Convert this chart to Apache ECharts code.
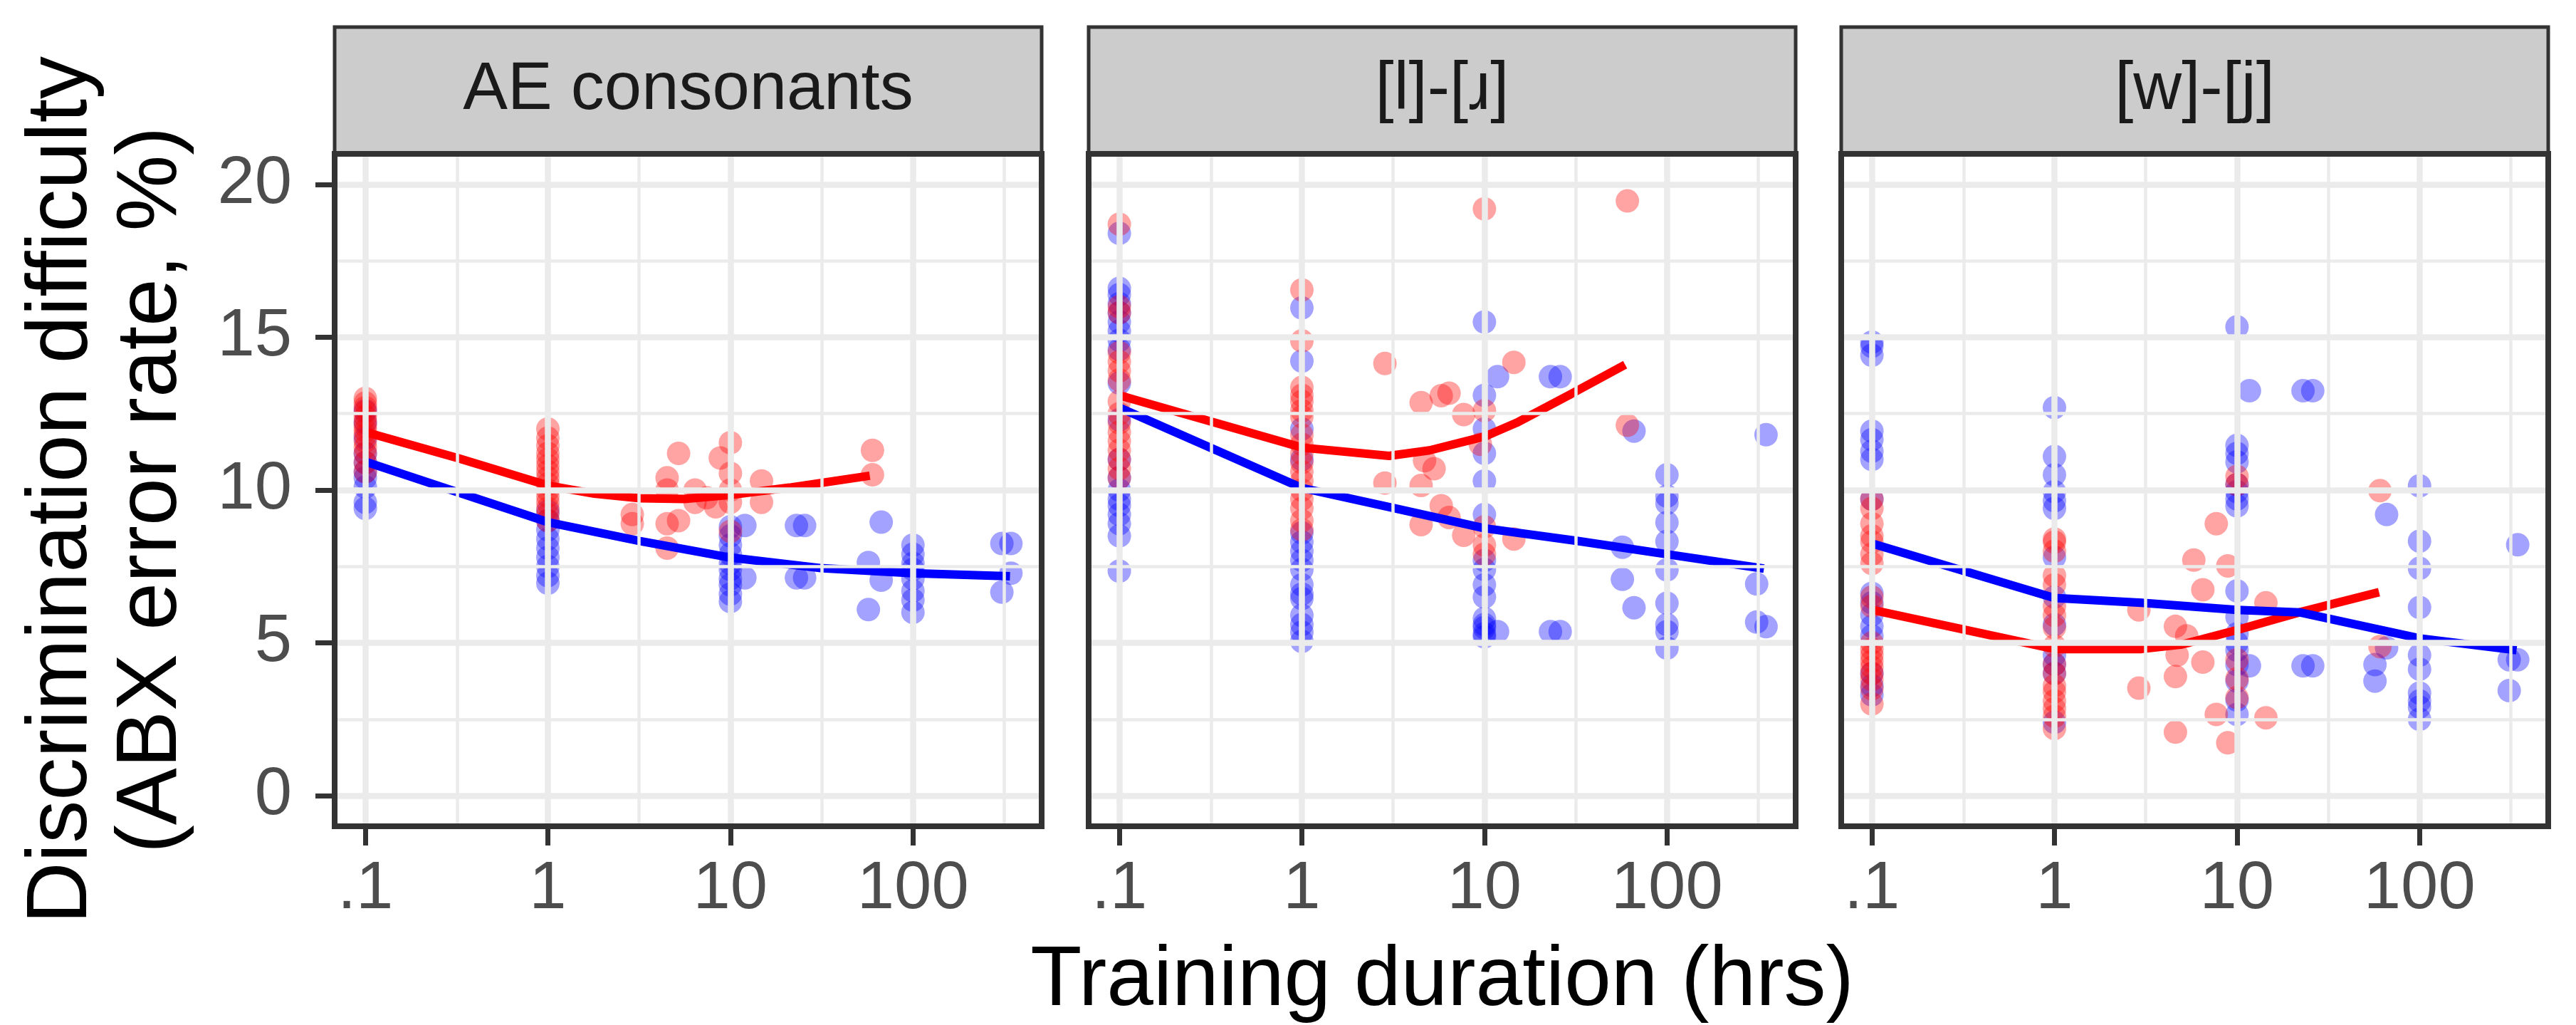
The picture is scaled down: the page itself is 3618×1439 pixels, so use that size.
<!DOCTYPE html>
<html>
<head>
<meta charset="utf-8">
<script src="https://cdn.jsdelivr.net/npm/echarts@6/dist/echarts.min.js"></script>
<style>
html, body { margin: 0; padding: 0; background: #fff; }
#chart { width: 3618px; height: 1439px; }
</style>
</head>
<body>
<div id="chart"></div>
<script>
// facet labels
const panelNames = ['AE consonants', '[l]-[ɹ]', '[w]-[j]']

// axis ticks
const xTicks = [0.1, 1, 10, 100]
const xTickLabels = ['.1', '1', '10', '100']
const xMinorGrid = [0.3162, 3.162, 31.62, 316.2]
const yTicks = [0, 5, 10, 15, 20]
const yMinorGrid = [2.5, 7.5, 12.5, 17.5]

// points: [training hours, [error rates ...]]
const aeRed = [
  [0.1, [13.0, 12.85, 12.7, 12.55, 12.4, 12.25, 12.1, 11.95, 11.8, 11.6, 11.4, 11.2, 10.9, 10.6]],
  [1, [12.0, 11.7, 11.45, 11.2, 11.0, 10.8, 10.6, 10.4, 10.2, 10.0, 9.8, 9.6, 9.4, 9.2, 9.0]],
  [2.9, [9.2, 8.9]],
  [4.5, [10.4, 10.0, 8.9, 8.1]],
  [5.2, [11.2, 9.0]],
  [6.4, [10.0, 9.6]],
  [7.4, [9.75]],
  [8.3, [9.45]],
  [8.8, [11.05]],
  [10, [11.55, 10.55, 10.0, 9.6, 8.65]],
  [14.8, [10.3, 9.6]],
  [60, [11.3, 10.5]]
]
const aeBlue = [
  [0.1, [12.6, 12.2, 11.7, 11.2, 10.9, 10.6, 10.4, 10.1, 9.6, 9.4]],
  [1, [9.3, 9.0, 8.7, 8.4, 8.1, 7.8, 7.5, 7.2, 6.95]],
  [10, [8.8, 8.5, 8.2, 7.9, 7.6, 7.4, 7.1, 6.9, 6.6, 6.35]],
  [12, [8.84, 7.13]],
  [23, [8.84, 7.13]],
  [25.5, [8.84, 7.13]],
  [57, [7.63, 6.09]],
  [67, [8.95, 7.05]],
  [100, [8.2, 7.9, 7.6, 7.4, 7.1, 6.7, 6.4, 6.0]],
  [307, [8.25, 6.66]],
  [344, [8.25, 7.28]]
]
const lrRed = [
  [0.1, [18.7, 16.0, 15.8, 14.5, 14.2, 13.9, 13.6, 12.9, 12.5, 12.2, 11.9, 11.6, 11.3, 11.0, 10.7, 10.4]],
  [1, [16.55, 14.88, 13.36, 13.1, 12.9, 12.6, 12.4, 11.8, 11.5, 11.2, 10.9, 10.6, 10.3, 10.0, 9.7, 9.4, 9.0, 8.7]],
  [2.85, [14.14, 10.23]],
  [4.5, [12.86, 10.15, 8.87]],
  [4.7, [10.96]],
  [5.3, [10.7]],
  [5.8, [13.09, 9.49]],
  [6.4, [13.17, 9.1]],
  [7.7, [12.47, 8.52]],
  [9.5, [11.5]],
  [10, [19.2, 12.6, 8.8, 8.2, 7.9]],
  [14.5, [14.18, 8.4]],
  [60.7, [19.46, 12.12]]
]
const lrBlue = [
  [0.1, [18.4, 16.6, 16.4, 16.1, 15.8, 15.5, 15.2, 14.9, 14.6, 13.5, 12.3, 11.0, 10.4, 10.0, 9.7, 9.5, 9.2, 8.9, 8.5, 7.35]],
  [1, [15.96, 14.22, 12.0, 11.0, 8.6, 8.3, 8.0, 7.7, 7.4, 6.9, 6.6, 6.45, 5.9, 5.6, 5.35, 5.05]],
  [10, [15.5, 13.1, 12.0, 11.2, 10.3, 9.2, 7.7, 7.4, 6.9, 6.5, 5.8, 5.6, 5.5, 5.3, 5.2]],
  [11.8, [13.71, 5.37]],
  [23, [13.71, 5.37]],
  [26, [13.71, 5.37]],
  [57, [8.13, 7.08]],
  [66, [11.93, 6.15]],
  [100, [10.5, 9.8, 9.57, 8.94, 8.32, 7.39, 6.3, 5.6, 5.37, 4.83]],
  [310, [6.93, 5.68]],
  [349, [11.81, 5.53]]
]
const wjRed = [
  [0.1, [9.7, 9.4, 8.9, 8.5, 8.3, 7.9, 7.6, 6.5, 6.2, 5.0, 4.8, 4.6, 4.4, 4.2, 4.0, 3.8, 3.5, 3.0]],
  [1, [8.4, 8.3, 8.0, 7.2, 6.9, 6.2, 5.9, 5.5, 4.9, 4.3, 4.0, 3.6, 3.4, 3.1, 2.85, 2.6, 2.2]],
  [2.9, [6.08, 3.52]],
  [4.6, [5.54, 3.9, 2.08]],
  [4.7, [4.6]],
  [5.3, [5.23]],
  [5.8, [7.71]],
  [6.5, [6.74, 4.37]],
  [7.7, [8.9, 2.66]],
  [8.9, [7.52, 1.73]],
  [10, [10.45, 10.18, 4.45, 3.83, 3.21]],
  [14.4, [6.31, 2.55]],
  [60.7, [9.98, 4.88]]
]
const wjBlue = [
  [0.1, [14.84, 14.7, 14.41, 11.93, 11.65, 11.27, 11.0, 9.7, 6.62, 6.31, 5.92, 5.54, 5.23, 4.0, 3.6, 3.3]],
  [1, [12.7, 11.1, 10.5, 9.95, 9.65, 9.4, 7.8, 6.5, 5.6, 4.6, 4.3, 4.0, 2.4]],
  [10, [15.34, 11.46, 11.2, 10.92, 10.18, 9.95, 9.71, 9.48, 6.7, 5.85, 5.3, 5.0, 4.76, 4.29, 3.75, 3.13, 2.66]],
  [11.7, [13.25, 4.25]],
  [23, [13.25, 4.25]],
  [26, [13.25, 4.25]],
  [57, [4.29, 3.75]],
  [66, [9.2, 4.84]],
  [100, [10.14, 8.33, 7.44, 6.16, 4.6, 4.14, 3.36, 3.1, 2.9, 2.5]],
  [310, [4.45, 3.44]],
  [345, [8.21, 4.45]]
]

// smoothed trend lines
const aeRedFit = [[0.1, 11.9], [0.32, 11.05], [1, 10.15], [1.8, 9.88], [3.2, 9.73], [5.6, 9.71], [10, 9.84], [21, 10.08], [58, 10.47]]
const aeBlueFit = [[0.1, 10.93], [1, 8.95], [3.2, 8.33], [10, 7.79], [32, 7.44], [100, 7.28], [340, 7.18]]
const lrRedFit = [[0.1, 13.1], [1, 11.39], [3, 11.12], [5, 11.3], [10, 11.75], [15, 12.2], [30, 13.15], [59, 14.1]]
const lrBlueFit = [[0.1, 12.7], [1, 10.07], [3.2, 9.41], [10, 8.75], [32, 8.34], [100, 7.9], [340, 7.43]]
const wjRedFit = [[0.1, 6.08], [1, 4.8], [3, 4.8], [5, 4.95], [10, 5.42], [22, 6.0], [60, 6.66]]
const wjBlueFit = [[0.1, 8.25], [1, 6.47], [3, 6.31], [10, 6.08], [22, 6.0], [100, 5.15], [340, 4.76]]

const panels = [
  { red: aeRed, blue: aeBlue, redFit: aeRedFit, blueFit: aeBlueFit },
  { red: lrRed, blue: lrBlue, redFit: lrRedFit, blueFit: lrBlueFit },
  { red: wjRed, blue: wjBlue, redFit: wjRedFit, blueFit: wjBlueFit }
]

const font = "'Liberation Sans', Arial, 'DejaVu Sans', sans-serif"
const panelLeft = [470, 1529, 2586]
const panelTop = 216
const panelW = 993
const panelH = 944
const stripTop = 38

function flatten(cols) {
  let out = []
  cols.forEach(([x, ys]) => ys.forEach(y => out.push([x, y])))
  return out
}

let myChart = echarts.init(document.getElementById('chart'), null, { renderer: 'canvas' })

let grids = []
let xAxes = []
let yAxes = []
let series = []
let graphics = []

panels.forEach((p, i) => {
  grids.push({
    left: panelLeft[i],
    top: panelTop,
    width: panelW,
    height: panelH,
    show: true,
    borderColor: '#333333',
    borderWidth: 8,
    backgroundColor: 'transparent',
    z: 10,
    outerBoundsMode: 'none'
  })
  xAxes.push({
    gridIndex: i,
    type: 'log',
    logBase: 10,
    min: 0.0679,
    max: 507,
    axisLine: { show: false, onZero: false },
    splitLine: { show: false },
    minorTick: { show: false },
    minorSplitLine: { show: false },
    axisTick: {
      show: true,
      length: 27,
      customValues: xTicks,
      lineStyle: { color: '#333333', width: 7 }
    },
    axisLabel: {
      customValues: xTicks,
      formatter: v => {
        let k = xTicks.findIndex(t => Math.abs(t - v) < 1e-6 * t)
        return k >= 0 ? xTickLabels[k] : ''
      },
      margin: 42,
      fontSize: 94,
      color: '#4D4D4D',
      fontFamily: font
    },
    name: i === 1 ? 'Training duration (hrs)' : '',
    nameLocation: 'middle',
    nameGap: 159,
    nameTextStyle: { fontSize: 118, color: '#000000', fontFamily: font, lineHeight: 118 }
  })
  yAxes.push({
    gridIndex: i,
    type: 'value',
    min: -1,
    max: 21,
    axisLine: { show: false, onZero: false },
    splitLine: { show: false },
    axisTick: {
      show: i === 0,
      length: 27,
      customValues: yTicks,
      lineStyle: { color: '#333333', width: 7 }
    },
    axisLabel: {
      show: i === 0,
      customValues: yTicks,
      margin: 60,
      fontSize: 94,
      color: '#4D4D4D',
      fontFamily: font
    },
    name: i === 0 ? 'Discrimination difficulty\n(ABX error rate, %)' : '',
    nameLocation: 'middle',
    nameRotate: 90,
    nameGap: 193,
    nameTextStyle: { fontSize: 120, color: '#000000', fontFamily: font, lineHeight: 126, align: 'center' }
  })

  // panel grid lines
  let gridLines = []
  xMinorGrid.forEach(v => gridLines.push({ xAxis: v, lineStyle: { color: '#EBEBEB', width: 4.5, type: 'solid' } }))
  yMinorGrid.forEach(v => gridLines.push({ yAxis: v, lineStyle: { color: '#EBEBEB', width: 4.5, type: 'solid' } }))
  xTicks.forEach(v => gridLines.push({ xAxis: v, lineStyle: { color: '#EBEBEB', width: 8.5, type: 'solid' } }))
  yTicks.forEach(v => gridLines.push({ yAxis: v, lineStyle: { color: '#EBEBEB', width: 8.5, type: 'solid' } }))
  series.push({
    type: 'scatter',
    xAxisIndex: i,
    yAxisIndex: i,
    data: [],
    z: 1,
    silent: true,
    markLine: {
      silent: true,
      symbol: ['none', 'none'],
      label: { show: false },
      emphasis: { disabled: true },
      animation: false,
      data: gridLines
    }
  })

  series.push({
    type: 'scatter',
    xAxisIndex: i,
    yAxisIndex: i,
    data: flatten(p.blue),
    symbolSize: 33,
    itemStyle: { color: 'rgba(0, 0, 255, 0.45)' },
    silent: true,
    z: 3
  })
  series.push({
    type: 'scatter',
    xAxisIndex: i,
    yAxisIndex: i,
    data: flatten(p.red),
    symbolSize: 33,
    itemStyle: { color: 'rgba(255, 0, 0, 0.45)' },
    silent: true,
    z: 3
  })
  series.push({
    type: 'line',
    xAxisIndex: i,
    yAxisIndex: i,
    data: p.redFit,
    showSymbol: false,
    lineStyle: { color: '#FF0000', width: 12 },
    silent: true,
    z: 4
  })
  series.push({
    type: 'line',
    xAxisIndex: i,
    yAxisIndex: i,
    data: p.blueFit,
    showSymbol: false,
    lineStyle: { color: '#0000FF', width: 12 },
    silent: true,
    z: 4
  })

  // facet strip
  graphics.push({
    type: 'rect',
    shape: { x: panelLeft[i], y: stripTop, width: panelW, height: panelTop - stripTop },
    style: { fill: '#CCCCCC', stroke: '#333333', lineWidth: 5 },
    z: 5
  })
  graphics.push({
    type: 'text',
    x: panelLeft[i] + panelW / 2,
    y: (stripTop + panelTop) / 2,
    style: {
      text: panelNames[i],
      fontSize: 94,
      fontFamily: font,
      fill: '#1A1A1A',
      align: 'center',
      verticalAlign: 'middle',
      textAlign: 'center',
      textVerticalAlign: 'middle'
    },
    z: 6
  })
})

myChart.setOption({
  animation: false,
  backgroundColor: '#ffffff',
  grid: grids,
  xAxis: xAxes,
  yAxis: yAxes,
  series: series,
  graphic: graphics
})
</script>
</body>
</html>
